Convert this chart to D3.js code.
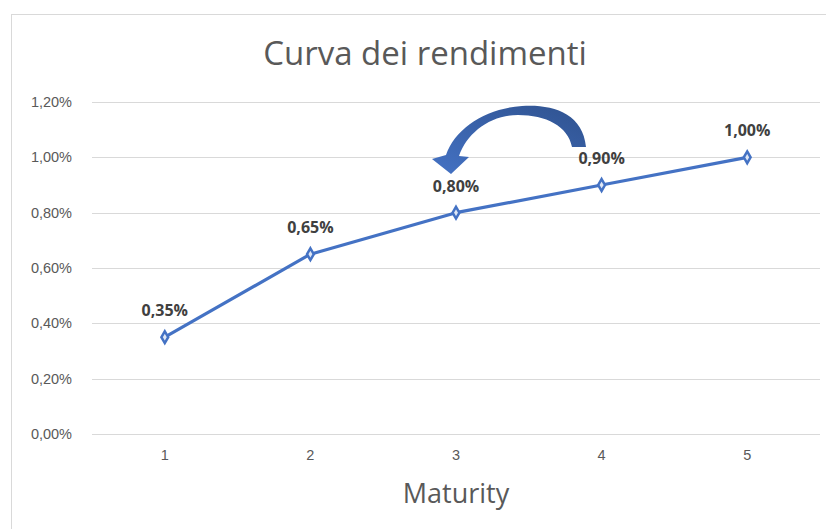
<!DOCTYPE html>
<html>
<head>
<meta charset="utf-8">
<script src="https://cdn.jsdelivr.net/npm/d3@7"></script>
<style>
  body { margin: 0; background: #fff; }
  svg { display: block; font-family: "Open Sans", "Liberation Sans", sans-serif; }
</style>
</head>
<body>
<svg width="826" height="529"></svg>
<script>
var maturities = ["1", "2", "3", "4", "5"];
var yields = [0.35, 0.65, 0.80, 0.90, 1.00];
var yTicks = [0, 0.2, 0.4, 0.6, 0.8, 1.0, 1.2];

var svg = d3.select("svg"),
    margin = {top: 102, right: 6, bottom: 95, left: 92},
    width = 826 - margin.left - margin.right,
    height = 529 - margin.top - margin.bottom;

var fmt = v => d3.format(".2f")(v).replace(".", ",") + "%";

// chart frame
svg.append("rect")
    .attr("x", 11.5).attr("y", 14.5)
    .attr("width", 840).attr("height", 540)
    .attr("fill", "#fff").attr("stroke", "#d9d9d9");

svg.append("text")
    .attr("x", 425).attr("y", 65)
    .attr("text-anchor", "middle")
    .attr("fill", "#595959")
    .attr("font-size", 33)
    .text("Curva dei rendimenti");

let g = svg.append("g").attr("transform", `translate(${margin.left},${margin.top})`);

let x = d3.scaleBand().domain(maturities).range([0, width]);
let y = d3.scaleLinear().domain([0, 1.2]).range([height, 0]);

// grid
g.append("g").selectAll("line")
    .data(yTicks)
    .enter().append("line")
    .attr("x1", 0).attr("x2", width)
    .attr("y1", d => Math.round(y(d)) + 0.5)
    .attr("y2", d => Math.round(y(d)) + 0.5)
    .attr("stroke", "#d9d9d9");

let yAxis = g.append("g")
    .call(d3.axisLeft(y).tickValues(yTicks).tickFormat(fmt).tickSize(0).tickPadding(20));
yAxis.select(".domain").remove();
yAxis.selectAll("text").attr("fill", "#595959").attr("font-size", 14.5);

let xAxis = g.append("g")
    .attr("transform", `translate(0,${height})`)
    .call(d3.axisBottom(x).tickSize(0).tickPadding(16));
xAxis.select(".domain").remove();
xAxis.selectAll("text").attr("fill", "#595959").attr("font-size", 14.5);

svg.append("text")
    .attr("x", margin.left + width / 2).attr("y", 503)
    .attr("text-anchor", "middle")
    .attr("fill", "#595959")
    .attr("font-size", 27)
    .text("Maturity");

let pts = maturities.map((m, i) => ({m: m, v: yields[i]}));

let line = d3.line()
    .x(d => x(d.m) + x.bandwidth() / 2)
    .y(d => y(d.v));

g.append("path")
    .datum(pts)
    .attr("d", line)
    .attr("fill", "none")
    .attr("stroke", "#4472c4")
    .attr("stroke-width", 3.2)
    .attr("stroke-linejoin", "round");

g.append("g").selectAll("path")
    .data(pts)
    .enter().append("path")
    .attr("d", d3.symbol(d3.symbolDiamond, 40))
    .attr("transform", d => `translate(${x(d.m) + x.bandwidth() / 2},${y(d.v)})`)
    .attr("fill", "#dfe7f5")
    .attr("stroke", "#4472c4")
    .attr("stroke-width", 2.5);

g.append("g").selectAll("text")
    .data(pts)
    .enter().append("text")
    .attr("x", d => x(d.m) + x.bandwidth() / 2)
    .attr("y", d => y(d.v) - 21)
    .attr("text-anchor", "middle")
    .attr("fill", "#404040")
    .attr("font-size", 16)
    .attr("font-weight", "bold")
    .text(d => fmt(d.v));

// curved arrow annotation
let defs = svg.append("defs");
let grad = defs.append("linearGradient").attr("id", "arrowGrad")
    .attr("x1", "0").attr("y1", "1").attr("x2", "1").attr("y2", "0");
grad.append("stop").attr("offset", "0").attr("stop-color", "#4472c4");
grad.append("stop").attr("offset", "1").attr("stop-color", "#2f528f");

svg.append("path")
    .attr("d", "M586,147 C583,113 552,104 522,106 C487,108 455,128 446,155 L432,159 L451,174 L469,157 L459,156 C467,133 490,115 518,115 C546,115 568,126 572,147 Z")
    .attr("fill", "url(#arrowGrad)");
</script>
</body>
</html>
